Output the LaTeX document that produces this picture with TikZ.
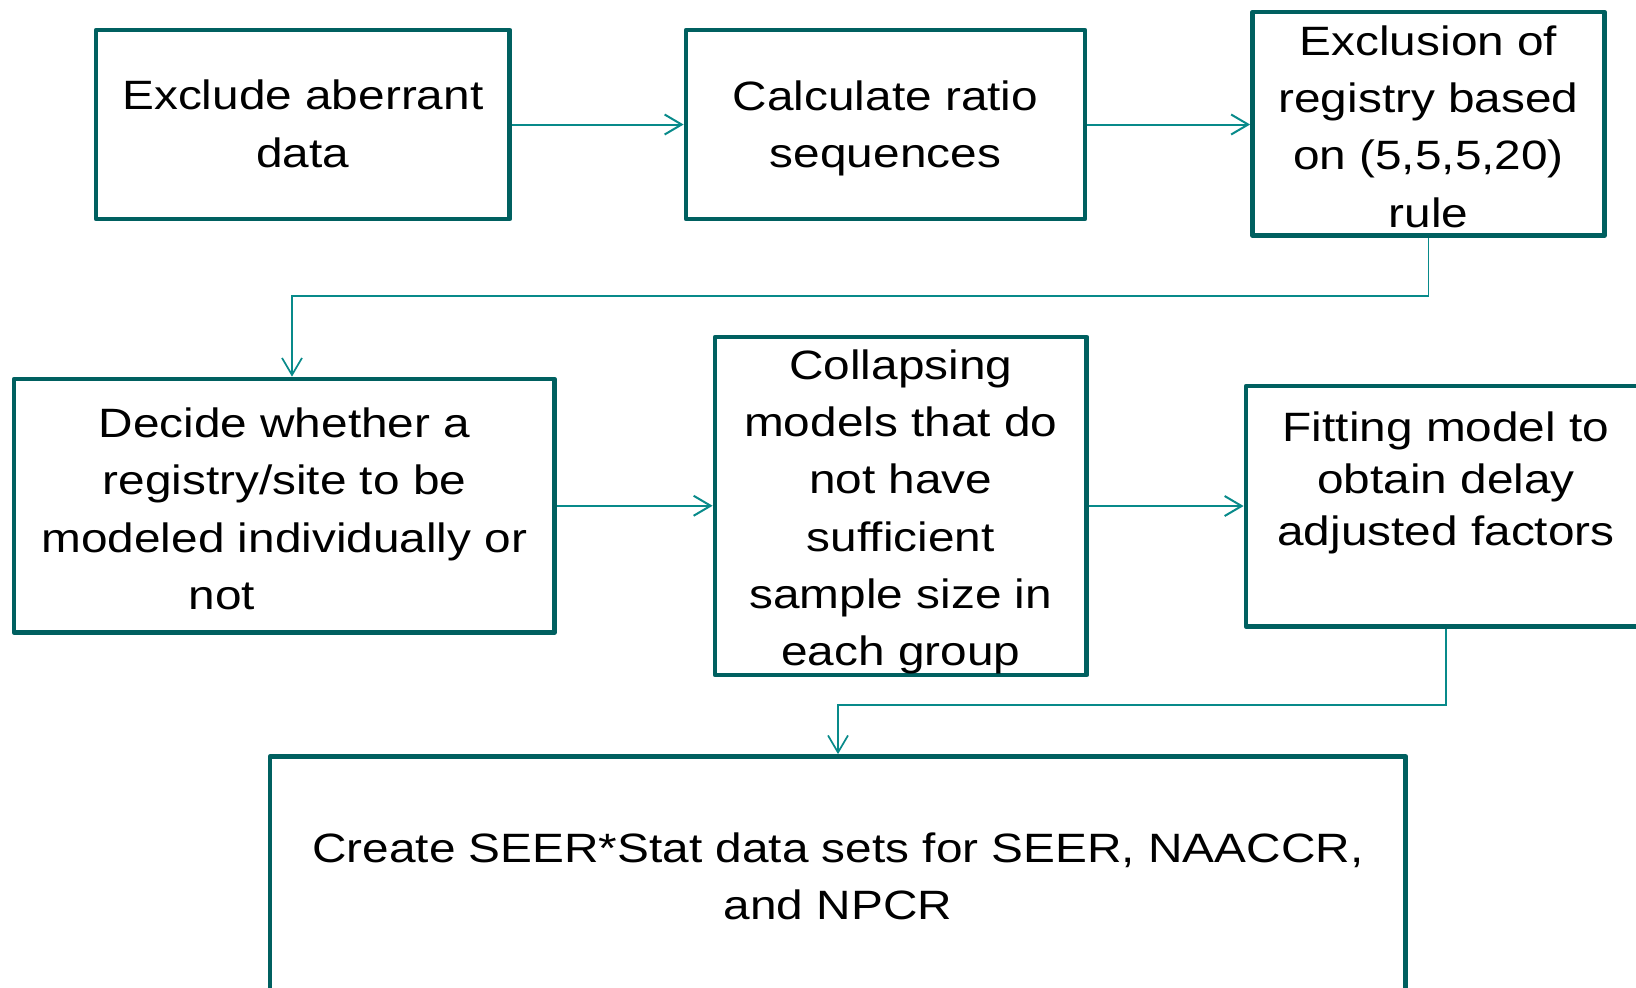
\documentclass[tikz,border=0pt]{standalone}
\usepackage{fontspec}
\usetikzlibrary{arrows.meta}
\newfontfamily\labfont[FakeStretch=1.165]{Liberation Sans}
\definecolor{boxcol}{RGB}{0,96,96}
\definecolor{arrcol}{RGB}{8,138,138}
\tikzset{
  stepbox/.style={draw=boxcol, line width=2.4pt, line join=round, fill=none, inner sep=0pt},
  txt/.style={font=\labfont\fontsize{20.5}{28.65}\selectfont, align=center, inner sep=0pt, text=black},
  arr/.style={draw=arrcol, line width=1pt, -{Straight Barb[length=8.5pt,width=10pt]}},
  elbow/.style={draw=arrcol, line width=0.85pt, -{Straight Barb[length=8.5pt,width=10pt]}}
}
\begin{document}
\begin{tikzpicture}[x=0.5pt, y=-0.5pt]
\useasboundingbox (0,0) rectangle (1636,987);
\clip (0,0) rectangle (1636,987);

% process boxes
\node[stepbox, minimum width=206.85pt, minimum height=94.5pt]  (b1) at (302.85,124.5) {};
\node[stepbox, minimum width=199.5pt,  minimum height=94.5pt]  (b2) at (885.5,124.5) {};
\node[stepbox, minimum width=176pt,    minimum height=111.75pt] (b3) at (1428.5,123.75) {};
\node[stepbox, minimum width=270.25pt, minimum height=126.75pt] (b4) at (284.25,505.75) {};
\node[stepbox, minimum width=185.85pt, minimum height=169pt]   (b5) at (900.85,506) {};
\node[stepbox, minimum width=200pt,    minimum height=120.25pt] (b6) at (1446,506.25) {};
\node[stepbox, minimum width=567.85pt, minimum height=126.75pt] (b7) at (837.85,883.25) {};

% box texts
\node[txt] (t1) at (302.85,123.9) {Exclude aberrant\\data};
\node[txt] (t2) at (885.5,128.2) {Calculate ratio\\sequences};
\node[txt] (t3) at (1428.5,126.5) {Exclusion of\\registry based\\on (5,5,5,20)\\rule};
\node[txt] (t4) at (284.4,508.9) {Decide whether a\\registry/site to be\\modeled individually or\\not\hbox to 62.7pt{}};
\node[txt] (t5) at (900.8,512) {Collapsing\\models that do\\not have\\sufficient\\sample size in\\each group};
\node[txt, font=\labfont\fontsize{20.5}{25.85}\selectfont] (t6) at (1446,482.9) {Fitting model to\\obtain delay\\adjusted factors};
\node[txt] (t7) at (837.9,876) {Create SEER*Stat data sets for SEER, NAACCR,\\and NPCR};

% bend points of the elbow connectors
\coordinate (k1) at (292,296);
\coordinate (k2) at (838,705);

% connectors
\draw[arr] (b1.east) -- (b1.east -| b2.west);
\draw[arr] (b2.east) -- (b2.east -| b3.west);
\draw[elbow] (b3.south) |- (k1) -- (k1 |- b4.north);
\draw[arr] (b4.east) -- (b4.east -| b5.west);
\draw[arr] (b5.east) -- (b5.east -| b6.west);
\draw[elbow] (b6.south) |- (k2) -- (k2 |- b7.north);
\end{tikzpicture}
\end{document}
